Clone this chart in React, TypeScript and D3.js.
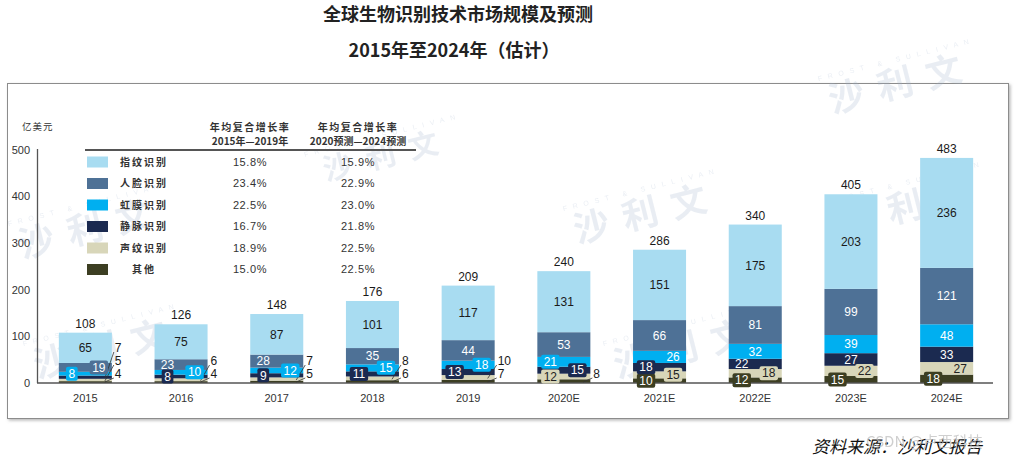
import React from 'react';
import * as d3 from 'd3';

const years = ['2015', '2016', '2017', '2018', '2019', '2020E', '2021E', '2022E', '2023E', '2024E'];
const fingerprint = [65, 75, 87, 101, 117, 131, 151, 175, 203, 236];
const face = [19, 23, 28, 35, 44, 53, 66, 81, 99, 121];
const iris = [8, 10, 12, 15, 18, 21, 26, 32, 39, 48];
const vein = [7, 8, 9, 11, 13, 15, 18, 22, 27, 33];
const voice = [5, 6, 7, 8, 10, 12, 15, 18, 22, 27];
const other = [4, 4, 5, 6, 7, 8, 10, 12, 15, 18];
const totals = [108, 126, 148, 176, 209, 240, 286, 340, 405, 483];
const seriesNames = ['指纹识别', '人脸识别', '虹膜识别', '静脉识别', '声纹识别', '其他'];
const cagr1519 = ['15.8%', '23.4%', '22.5%', '16.7%', '18.9%', '15.0%'];
const cagr2024 = ['15.9%', '22.9%', '23.0%', '21.8%', '22.5%', '22.5%'];
const yTicks = [0, 100, 200, 300, 400, 500];

// label placement per series per year: c=center, l/r=left/right, lb/rb=boxed, o=outside with leader
const labelModes: Record<string, string[]> = {
  fingerprint: ['c', 'c', 'c', 'c', 'c', 'c', 'c', 'c', 'c', 'c'],
  face: ['rb', 'l', 'l', 'c', 'c', 'c', 'c', 'c', 'c', 'c'],
  iris: ['lb', 'rb', 'rb', 'rb', 'rb', 'lb', 'r', 'c', 'c', 'c'],
  vein: ['o', 'lb', 'lb', 'lb', 'lb', 'rb', 'lb', 'l', 'c', 'c'],
  voice: ['o', 'o', 'o', 'o', 'o', 'lb', 'rb', 'rb', 'rb', 'r'],
  other: ['o', 'o', 'o', 'o', 'o', 'o', 'lb', 'lb', 'lb', 'lb'],
};

const keys = ['other', 'voice', 'vein', 'iris', 'face', 'fingerprint'];
const colors: Record<string, string> = {
  fingerprint: '#a8dcf1',
  face: '#4e7196',
  iris: '#00aff0',
  vein: '#1b2a50',
  voice: '#d8d6b9',
  other: '#3c3e22',
};
const textColors: Record<string, string> = {
  fingerprint: '#1a1a1a',
  face: '#ffffff',
  iris: '#ffffff',
  vein: '#ffffff',
  voice: '#222222',
  other: '#ffffff',
};
const legendKeys = ['fingerprint', 'face', 'iris', 'vein', 'voice', 'other'];

const seriesData: Record<string, number[]> = { fingerprint, face, iris, vein, voice, other };

const numFont = '"Liberation Sans", Arial, sans-serif';
const cjkFont = '"Noto Sans CJK SC", sans-serif';

export default function App() {
  const rows = years.map((yr, i) => {
    const r: any = { year: yr };
    keys.forEach((k) => (r[k] = seriesData[k][i]));
    return r;
  });
  const stacked = d3.stack().keys(keys)(rows);

  const x = d3.scaleBand().domain(years).range([37.5, 994.5]).paddingInner(0.446).paddingOuter(0.223);
  const y = d3.scaleLinear().domain([0, 500]).range([383, 150]);
  const bw = x.bandwidth();

  const bars: any[] = [];
  const labels: any[] = [];
  const outsideCount: number[] = years.map(() => 0);

  stacked.forEach((layer) => {
    const k = layer.key;
    layer.forEach((d, i) => {
      const yr = years[i];
      const x0 = x(yr)!;
      const y0 = y(d[1]);
      const y1 = y(d[0]);
      bars.push(<rect key={`b-${k}-${i}`} x={x0} y={y0} width={bw} height={y1 - y0} fill={colors[k]} />);
      const val = seriesData[k][i];
      const mode = labelModes[k][i];
      const midY = (y0 + y1) / 2;
      const txt = String(val);
      const tw = txt.length * 6.7;
      if (mode === 'o') {
        const row = outsideCount[i]++;
        const ly = y(0) - 9 - 13 * row;
        const xr = x0 + bw;
        labels.push(
          <g key={`o-${k}-${i}`}>
            <line x1={xr - 7} y1={Math.min(midY + 1, 382)} x2={xr + 2} y2={ly + 4} stroke="#333" strokeWidth={0.8} />
            <text x={xr + 3} y={ly} dy="0.35em" fontSize={12} fontFamily={numFont} fill="#1a1a1a">
              {txt}
            </text>
          </g>
        );
      } else {
        let cx = x0 + bw / 2;
        if (mode === 'l' || mode === 'lb') cx = x0 + 13;
        if (mode === 'r' || mode === 'rb') cx = x0 + bw - 13;
        const boxed = mode === 'lb' || mode === 'rb';
        labels.push(
          <g key={`l-${k}-${i}`}>
            {boxed && (
              <rect x={cx - tw / 2 - 2.5} y={midY - 7} width={tw + 5} height={14} rx={2} fill={colors[k]} />
            )}
            <text
              x={cx}
              y={midY}
              dy="0.35em"
              textAnchor="middle"
              fontSize={12}
              fontFamily={numFont}
              fill={textColors[k]}
            >
              {txt}
            </text>
          </g>
        );
      }
    });
  });

  const watermarks = [
    { x: 95, y: 240, s: 36 },
    { x: 650, y: 225, s: 36 },
    { x: 915, y: 218, s: 36 },
    { x: 905, y: 95, s: 36 },
    { x: 110, y: 360, s: 36 },
    { x: 690, y: 360, s: 36 },
    { x: 390, y: 165, s: 30 },
  ];

  return (
    <svg
      width={1017}
      height={461}
      style={{ position: 'absolute', left: 0, top: 0, background: '#ffffff' }}
    >
      <defs>
        <filter id="sh" x="-5%" y="-5%" width="110%" height="110%">
          <feDropShadow dx={1.5} dy={1.5} stdDeviation={1.5} floodColor="#888" floodOpacity={0.6} />
        </filter>
      </defs>
      <rect x={0} y={0} width={1017} height={461} fill="#fff" />
      <text x={458} y={15} dy="0.35em" textAnchor="middle" fontSize={18} fontWeight={700} fontFamily={cjkFont} fill="#222">
        全球生物识别技术市场规模及预测
      </text>
      <text x={454} y={51} dy="0.35em" textAnchor="middle" fontSize={18} fontWeight={700} fontFamily={cjkFont} fill="#222">
        2015年至2024年（估计）
      </text>

      <rect x={7.5} y={83.5} width={1001} height={335} fill="#fff" stroke="#8c8c8c" strokeWidth={1} filter="url(#sh)" />

      {watermarks.map((w, i) => (
        <g key={`wm-${i}`} transform={`translate(${w.x},${w.y}) rotate(-14)`} opacity={0.22}>
          <text textAnchor="middle" fontSize={w.s} fontFamily={cjkFont} fontWeight={700} fill="#9fb2cc" letterSpacing={14}>
            沙利文
          </text>
          <text y={-w.s * 0.95} textAnchor="middle" fontSize={7} fontFamily={numFont} fill="#9fb2cc" letterSpacing={6}>
            FROST &amp; SULLIVAN
          </text>
        </g>
      ))}

      <text x={22} y={127} dy="0.35em" fontSize={9.5} fontFamily={cjkFont} fill="#333" letterSpacing={1}>
        亿美元
      </text>

      {/* axes */}
      <line x1={37.5} y1={149} x2={37.5} y2={383} stroke="#555" strokeWidth={1.3} />
      {yTicks.map((t) => (
        <text key={`yt-${t}`} x={30} y={y(t)} dy="0.35em" textAnchor="end" fontSize={11} fontFamily={numFont} fill="#333">
          {t}
        </text>
      ))}

      {bars}
      <line x1={37} y1={383} x2={993} y2={383} stroke="#555" strokeWidth={1.5} />
      {labels}

      {years.map((yr, i) => (
        <g key={`tot-${i}`}>
          <text
            x={x(yr)! + bw / 2}
            y={y(totals[i]) - 9}
            dy="0.35em"
            textAnchor="middle"
            fontSize={12}
            fontFamily={numFont}
            fill="#1a1a1a"
          >
            {totals[i]}
          </text>
          <text x={x(yr)! + bw / 2} y={398} dy="0.35em" textAnchor="middle" fontSize={11} fontFamily={numFont} fill="#333">
            {yr}
          </text>
        </g>
      ))}

      {/* legend table */}
      <text x={250} y={127} dy="0.35em" textAnchor="middle" fontSize={10} fontFamily={cjkFont} fontWeight={700} fill="#333" letterSpacing={1.5}>
        年均复合增长率
      </text>
      <text x={250} y={141} dy="0.35em" textAnchor="middle" fontSize={10} fontFamily={cjkFont} fontWeight={700} fill="#333">
        2015年—2019年
      </text>
      <text x={358} y={127} dy="0.35em" textAnchor="middle" fontSize={10} fontFamily={cjkFont} fontWeight={700} fill="#333" letterSpacing={1.5}>
        年均复合增长率
      </text>
      <text x={358} y={141} dy="0.35em" textAnchor="middle" fontSize={10} fontFamily={cjkFont} fontWeight={700} fill="#333">
        2020预测—2024预测
      </text>
      <line x1={85} y1={150} x2={416} y2={150} stroke="#555" strokeWidth={2} />
      {legendKeys.map((k, i) => {
        const cy = 162 + i * 21.5;
        return (
          <g key={`lg-${k}`}>
            <rect x={87} y={cy - 5.5} width={21} height={11} fill={colors[k]} />
            <text x={144} y={cy} dy="0.35em" textAnchor="middle" fontSize={10} fontFamily={cjkFont} fontWeight={700} fill="#333" letterSpacing={2}>
              {seriesNames[i]}
            </text>
            <text x={250} y={cy} dy="0.35em" textAnchor="middle" fontSize={11} fontFamily={numFont} fill="#333" letterSpacing={0.6}>
              {cagr1519[i]}
            </text>
            <text x={358} y={cy} dy="0.35em" textAnchor="middle" fontSize={11} fontFamily={numFont} fill="#333" letterSpacing={0.6}>
              {cagr2024[i]}
            </text>
          </g>
        );
      })}

      <text x={812} y={447} dy="0.35em" fontSize={17} fontStyle="italic" fontFamily={cjkFont} fill="#111">
        资料来源：沙利文报告
      </text>
      <text x={866} y={442} dy="0.35em" fontSize={15} fontFamily={cjkFont} fill="#bbb" opacity={0.7}>
        CSDN @卢西科技
      </text>
    </svg>
  );
}
